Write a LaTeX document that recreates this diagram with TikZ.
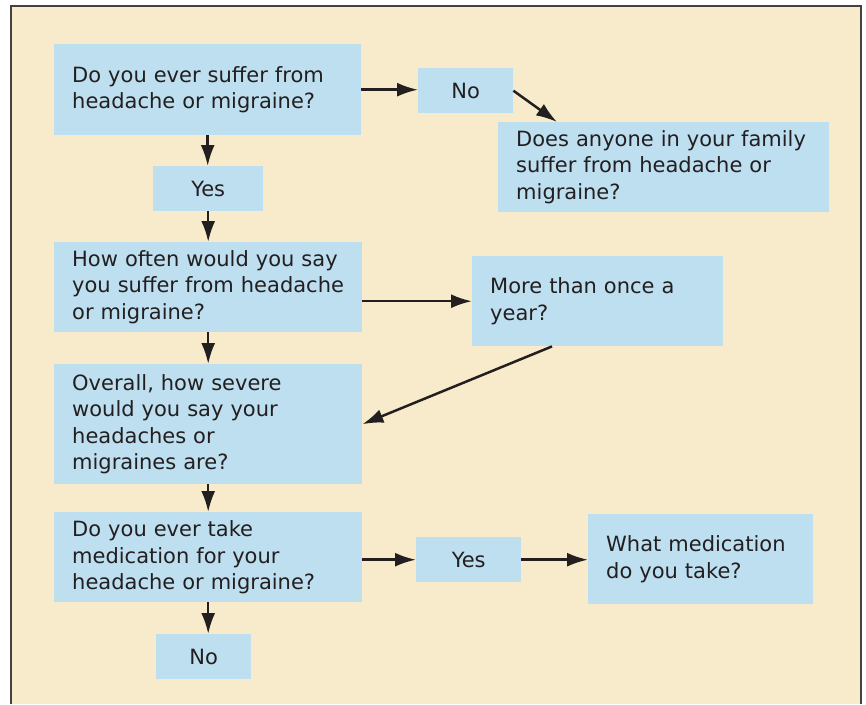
\documentclass[tikz,border=0pt]{standalone}
\usepackage{fontspec}
\setmainfont{DejaVu Sans}
\usepackage{xcolor}
\usetikzlibrary{arrows.meta,positioning,calc}
\definecolor{cream}{HTML}{F7EBCB}
\definecolor{qblue}{HTML}{BEDFF0}
\definecolor{ink}{HTML}{231F20}

\begin{document}
\begin{tikzpicture}[x=1pt,y=-1pt,>={Latex[length=21pt,width=14pt]},
  qbox/.style={fill=qblue,anchor=north west,inner xsep=18pt,inner ysep=0pt,
    align=left,text=ink,font=\fontsize{21}{26.5}\selectfont},
  ansbox/.style={fill=qblue,anchor=north west,inner sep=0pt,align=center,
    text=ink,font=\fontsize{21}{26.5}\selectfont},
  flow/.style={->,draw=ink,line width=2.5pt}]
  \fill[white] (0,0) rectangle (866,704);
  \useasboundingbox (0,0) rectangle (866,704);
  \fill[cream] (11,6) rectangle (861,704);
  \draw[ink!85,line width=2pt] (11,704) -- (11,6) -- (861,6) -- (861,704);

  % questions
  \node[qbox,text width=271pt,minimum height=91pt] (q1) at (54,44)
    {Do you ever suffer from\\headache or migraine?};
  \node[qbox,text width=295pt,minimum height=90pt] (fam) at (498,122)
    {Does anyone in your family\\suffer from headache or\\migraine?};
  \node[qbox,text width=272pt,minimum height=90pt] (q2) at (54,242)
    {How often would you say\\you suffer from headache\\or migraine?};
  \node[qbox,text width=215pt,minimum height=90pt] (more) at (472,256)
    {More than once a\\year?};
  \node[qbox,text width=272pt,minimum height=120pt] (q3) at (54,364)
    {Overall, how severe\\would you say your\\headaches or\\migraines are?};
  \node[qbox,text width=272pt,minimum height=90pt] (q4) at (54,512)
    {Do you ever take\\medication for your\\headache or migraine?};
  \node[qbox,text width=189pt,minimum height=90pt] (what) at (588,514)
    {What medication\\do you take?};

  % answers
  \node[ansbox,minimum width=95pt,minimum height=45pt] (no1) at (418,68) {No};
  \node[ansbox,minimum width=110pt,minimum height=45pt] (yes1) at (153,166) {Yes};
  \node[ansbox,minimum width=105pt,minimum height=45pt] (yes2) at (416,537) {Yes};
  \node[ansbox,minimum width=95pt,minimum height=45pt] (no2) at (156,634) {No};

  \draw[flow] (q1.east) -- (q1.east -| no1.west);
  \draw[flow] (no1.east) -- ([xshift=59pt]fam.north west);
  \draw[flow] (q1.south) -- (q1.south |- yes1.north);
  \draw[flow] (yes1.south -| q2.north) -- (q2.north);
  \draw[flow] (more.west -| q2.east) -- (more.west);
  \draw[flow] ([xshift=80pt]more.south west) -- (q3.east);
  \draw[flow] (q2.south) -- (q3.north);
  \draw[flow] (q3.south) -- (q4.north);
  \draw[flow] (q4.east |- yes2.west) -- (yes2.west);
  \draw[flow] (yes2.east) -- (yes2.east -| what.west);
  \draw[flow] (q4.south) -- (q4.south |- no2.north);
\end{tikzpicture}
\end{document}
